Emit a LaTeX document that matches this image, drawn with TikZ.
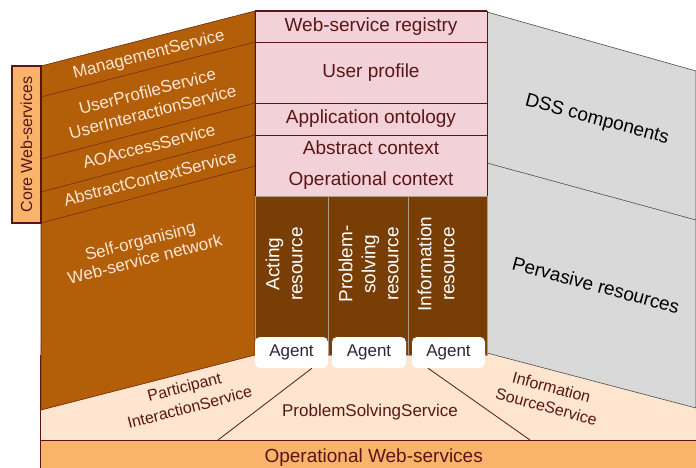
\documentclass[tikz,border=0pt]{standalone}
\usepackage{fontspec}
\setmainfont{Liberation Sans}

\definecolor{panelbrown}{HTML}{B35F0A}
\definecolor{resbrown}{HTML}{783E05}
\definecolor{resline}{HTML}{B09A88}
\definecolor{rowpink}{HTML}{F2D1D8}
\definecolor{dssgray}{HTML}{D9D9D9}
\definecolor{peach}{HTML}{FDE5CF}
\definecolor{opsorange}{HTML}{F9B36B}
\definecolor{maroon}{HTML}{5A1616}
\definecolor{cream}{HTML}{FCE6D4}
\definecolor{agenttext}{HTML}{2B2540}

\tikzset{
  every node/.style={inner sep=0pt},
  row/.style={draw=maroon, fill=rowpink, text=maroon, minimum width=232,
    font=\fontsize{19}{31}\selectfont, align=center},
  res/.style={draw=resline, fill=resbrown, minimum height=159},
  lbl/.style={text=white, rotate=90, align=center, font=\fontsize{19}{23}\selectfont},
  agent/.style={fill=white, rounded corners=5pt, minimum width=73, minimum height=31,
    text=agenttext, font=\fontsize{17}{20}\selectfont},
  core/.style={text=cream, rotate=14.5, align=center, font=\fontsize{17}{21}\selectfont},
  svc/.style={text=maroon, align=center, font=\fontsize{16}{20}\selectfont},
  dss/.style={rotate=-15, font=\fontsize{19}{22}\selectfont}
}

\begin{document}
\begin{tikzpicture}[x=1pt,y=-1pt]
  \useasboundingbox (0,0) rectangle (696,468);
  \clip (0,0) rectangle (696,468);

  % operational layer
  \fill[peach] (40,345) rectangle (696,440);
  \draw[maroon] (40,355) -- (40,468);
  \node[draw=maroon, fill=opsorange, minimum width=667, minimum height=34, anchor=north west,
    text=maroon, font=\fontsize{19}{22}\selectfont] (ops) at (40,440) {Operational Web-services};

  % core web-services panel
  \filldraw[fill=panelbrown, draw=maroon!80!panelbrown, line width=0.6]
    (41,66) -- (255,11) -- (255,355) -- (41,410) -- cycle;
  \foreach \l/\r in {97/42,159/103,192/135,223/166}
    \draw[maroon!70!panelbrown, line width=0.6] (41,\l) -- (255,\r);
  \node[draw=maroon, line width=1.2, fill=opsorange, rotate=90, minimum width=157,
    minimum height=29, text=maroon, font=\fontsize{16}{19}\selectfont] (core) at (26.5,144.5) {Core Web-services};

  % DSS side
  \filldraw[fill=dssgray, draw=black!70, line width=0.6]
    (487,12) -- (696,71) -- (696,408) -- (487,353) -- cycle;
  \draw[black!70, line width=0.6] (487,163) -- (696,220);

  % knowledge rows
  \node[row, minimum height=31] (reg) at (371,26.5) {Web-service registry};
  \node[row, minimum height=61] (prof) at (371,72.5) {User profile};
  \node[row, minimum height=32] (onto) at (371,119) {Application ontology};
  \node[row, minimum height=61] (ctx) at (371,165.5) {Abstract context\\Operational context};
  \draw[maroon, line width=1.5] (reg.north west) -- (reg.north east);

  % resources
  \node[res, minimum width=73] (act) at (291.5,275.5) {};
  \node[res, minimum width=80] (ps) at (368,275.5) {};
  \node[res, minimum width=79] (inf) at (447.5,275.5) {};
  \node[lbl] (actl) at (284,264) {Acting\\resource};
  \node[lbl] (psl) at (368.5,264) {Problem-\\solving\\resource};
  \node[lbl] (infl) at (436,264) {Information\\resource};

  \node[agent] (a1) at (291.5,352.5) {Agent};
  \node[agent, minimum width=74] (a2) at (369,352.5) {Agent};
  \node[agent] (a3) at (448.5,352.5) {Agent};

  % service split
  \coordinate (s1) at ([xshift=20.5]a1.south);
  \coordinate (s3) at ([xshift=-20.5]a3.south);
  \coordinate (e1) at (218,440);
  \coordinate (e3) at (530,440);
  \foreach \from/\to in {s1/e1,s3/e3}
    \draw[maroon, line width=0.8] (\from) -- (\to);

  % labels
  \node[core] (mgmt) at (149,55) {ManagementService};
  \node[core] (upis) at (150,101.5) {UserProfileService\\UserInteractionService};
  \node[core] (aoas) at (149,146) {AOAccessService};
  \node[core] (acs) at (150,178) {AbstractContextService};
  \node[core, font=\fontsize{17}{19}\selectfont] (son) at (142.5,250) {Self-organising\\Web-service network};
  \node[svc, rotate=14.5, font=\fontsize{16}{21}\selectfont] (pis) at (187,397) {Participant\\InteractionService};
  \node[svc, font=\fontsize{17}{20}\selectfont] (pss) at (370,412) {ProblemSolvingService};
  \node[svc, rotate=-15] (iss) at (549,397) {Information\\SourceService};
  \node[dss] (dssc) at (597,120) {DSS components};
  \node[dss] (pres) at (596,285) {Pervasive resources};
\end{tikzpicture}
\end{document}
